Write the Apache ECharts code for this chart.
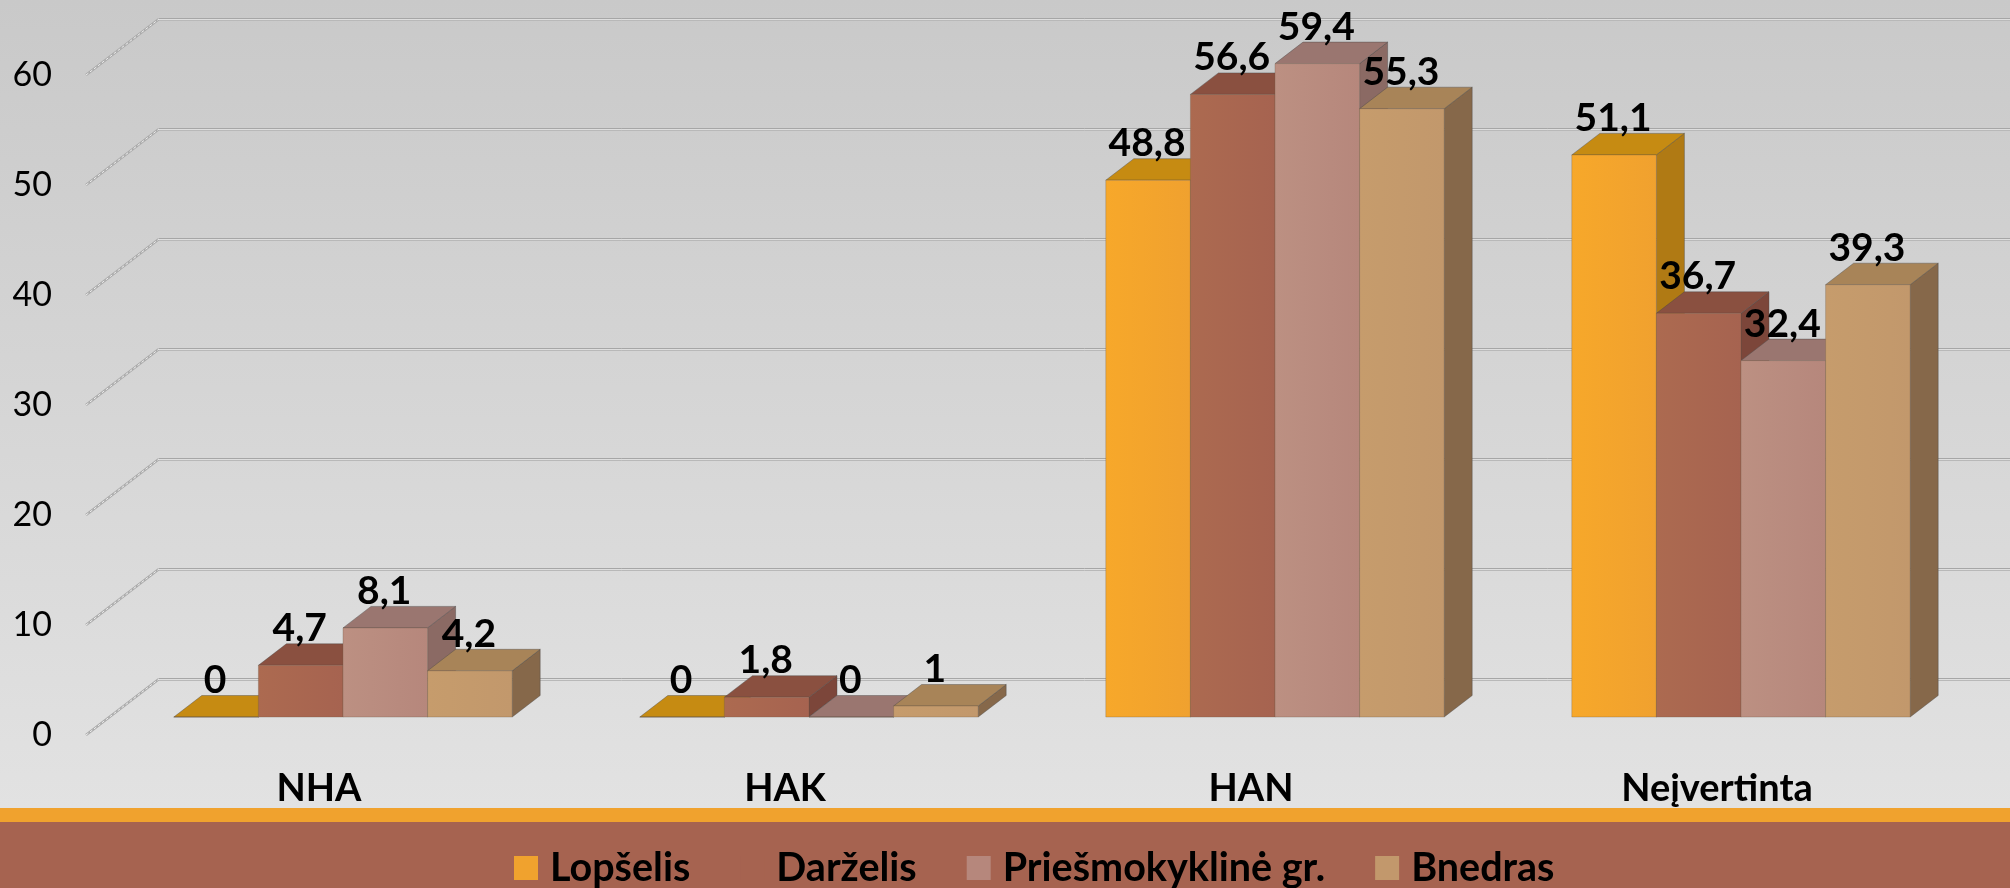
<!DOCTYPE html>
<html><head><meta charset="utf-8">
<style>html,body{margin:0;padding:0;background:#fff}#c{width:2010px;height:888px}</style>
<script src="https://cdn.jsdelivr.net/npm/echarts@6/dist/echarts.min.js"></script>
</head><body><div id="c"></div>
<script>
const categories = ['NHA', 'HAK', 'HAN', 'Neįvertinta'];
const lopselis = [0, 0, 48.8, 51.1];
const darzelis = [4.7, 1.8, 56.6, 36.7];
const priesmokykline = [8.1, 0, 59.4, 32.4];
const bnedras = [4.2, 1, 55.3, 39.3];
const yTicks = [0, 10, 20, 30, 40, 50, 60];
const seriesNames = ['Lopšelis', 'Darželis', 'Priešmokyklinė gr.', 'Bnedras'];
const seriesValues = [lopselis, darzelis, priesmokykline, bnedras];

const palette = [
  {front: ['#F7A82A', '#F0A12F'], swatch: '#F0A22E', top: '#C68B12', side: '#B07A14'},
  {front: ['#AC6A50', '#A66350'], swatch: '#A66350', top: '#8A5040', side: '#7C463A'},
  {front: ['#BC9082', '#B6877C'], swatch: '#B6877C', top: '#9A7670', side: '#8B6A64'},
  {front: ['#C69C6C', '#C2986C'], swatch: '#C2986C', top: '#A88458', side: '#86684A'}
];
const DEPTH_X = 28, DEPTH_Y = 21.5, BAR_RATIO = 84.6 / 466;
const WALL_X = 73, WALL_Y = 56;
const EDGE = 'rgba(70,70,70,0.4)';
const FRONT_EDGE = 'rgba(110,90,70,0.3)';

function barItem(si) {
  return function (params, api) {
    const c = api.value(0), v = api.value(1);
    const topPt = api.coord([c, v]), basePt = api.coord([c, 0]);
    const w = api.size([1, 0])[0] * BAR_RATIO;
    const x0 = topPt[0] - 2 * w + si * w, x1 = x0 + w;
    const yT = topPt[1], yB = basePt[1];
    const col = palette[si];
    const poly = (pts, fill) => ({type: 'polygon', shape: {points: pts},
      style: {fill: fill, stroke: EDGE, lineWidth: 1}});
    return {type: 'group', children: [
      poly([[x1, yT], [x1 + DEPTH_X, yT - DEPTH_Y], [x1 + DEPTH_X, yB - DEPTH_Y], [x1, yB]], col.side),
      poly([[x0, yT], [x0 + DEPTH_X, yT - DEPTH_Y], [x1 + DEPTH_X, yT - DEPTH_Y], [x1, yT]], col.top),
      {type: 'rect', shape: {x: x0, y: yT, width: w, height: yB - yT},
        style: {fill: new echarts.graphic.LinearGradient(0, 0, 1, 0, [
          {offset: 0, color: col.front[0]}, {offset: 1, color: col.front[1]}]),
          stroke: FRONT_EDGE, lineWidth: 1}},
      {type: 'text', z2: 100, style: {text: String(v).replace('.', ','),
        x: (x0 + x1) / 2 - 1, y: yT - DEPTH_Y - 15, align: 'center', verticalAlign: 'middle',
        font: 'bold 39px Lato', fill: '#000'}}
    ]};
  };
}

function wallItem(params, api) {
  const p = api.coord([0, api.value(0)]);
  const x = params.coordSys.x, y = p[1], xb = x + WALL_X, yb = Math.round(y - WALL_Y), xr = api.getWidth();
  const ln = (pts, stroke, width, dash) => ({type: 'polyline', shape: {points: pts},
    style: {fill: null, stroke: stroke, lineWidth: width, lineDash: dash || null}});
  return {type: 'group', children: [
    ln([[x, y], [xb, yb]], '#aaaaaa', 2.5),
    ln([[x, y], [xb, yb]], '#eeeeee', 1, [3, 2]),
    ln([[xb, yb - 0.5], [xr, yb - 0.5]], '#a6a6a6', 1),
    ln([[xb, yb + 0.5], [xr, yb + 0.5]], '#dedede', 1),
    ln([[xb, yb + 1.5], [xr, yb + 1.5]], '#b8b8b8', 1)
  ]};
}

const chart = echarts.init(document.getElementById('c'), null, {renderer: 'canvas', width: 2010, height: 888});
chart.setOption({
  animation: false,
  backgroundColor: new echarts.graphic.LinearGradient(0, 0, 0, 1, [
    {offset: 0, color: '#c9c9c9'}, {offset: 0.91, color: '#e2e2e2'}, {offset: 1, color: '#e2e2e2'}]),
  graphic: [
    {type: 'rect', z: -1, shape: {x: 0, y: 808, width: 2010, height: 14}, style: {fill: '#F0A22E'}},
    {type: 'rect', z: -1, shape: {x: 0, y: 822, width: 2010, height: 66}, style: {fill: '#A66350'}}
  ],
  grid: [
    {left: 86, width: 1864, top: 75, height: 660},
    {left: 110, width: 1864, top: 57, height: 660}
  ],
  xAxis: [
    {type: 'category', gridIndex: 0, data: categories, axisLine: {show: false}, axisTick: {show: false},
      axisLabel: {margin: 35, color: '#000', fontFamily: 'Lato', fontWeight: 'bold', fontSize: 38}},
    {type: 'category', gridIndex: 1, data: categories, show: false}
  ],
  yAxis: [
    {type: 'value', gridIndex: 0, min: 0, max: 60, interval: 10, splitLine: {show: false},
      axisLine: {show: false}, axisTick: {show: false},
      axisLabel: {margin: 34, color: '#000', fontFamily: 'Lato', fontSize: 34}},
    {type: 'value', gridIndex: 1, min: 0, max: 60, interval: 10, show: false, splitLine: {show: false}}
  ],
  legend: {
    data: seriesNames.map((n, i) => ({name: n, icon: 'rect', itemStyle: {color: palette[i].swatch}})),
    left: 514, top: 848, itemWidth: 24, itemHeight: 24, itemGap: 50, padding: 0,
    selectedMode: false,
    textStyle: {color: '#000', fontFamily: 'Lato', fontWeight: 'bold', fontSize: 39.5, padding: [0, 0, 0, 7]}
  },
  series: [
    {type: 'custom', name: '_wall', xAxisIndex: 0, yAxisIndex: 0, silent: true,
      data: yTicks.map(t => [t]), encode: {y: 0}, renderItem: wallItem}
  ].concat(seriesNames.map((name, si) => ({
    type: 'custom', name: name, xAxisIndex: 1, yAxisIndex: 1,
    itemStyle: {color: palette[si].swatch},
    data: seriesValues[si].map((v, c) => [c, v]),
    encode: {x: 0, y: 1},
    renderItem: barItem(si)
  })))
});
</script></body></html>
